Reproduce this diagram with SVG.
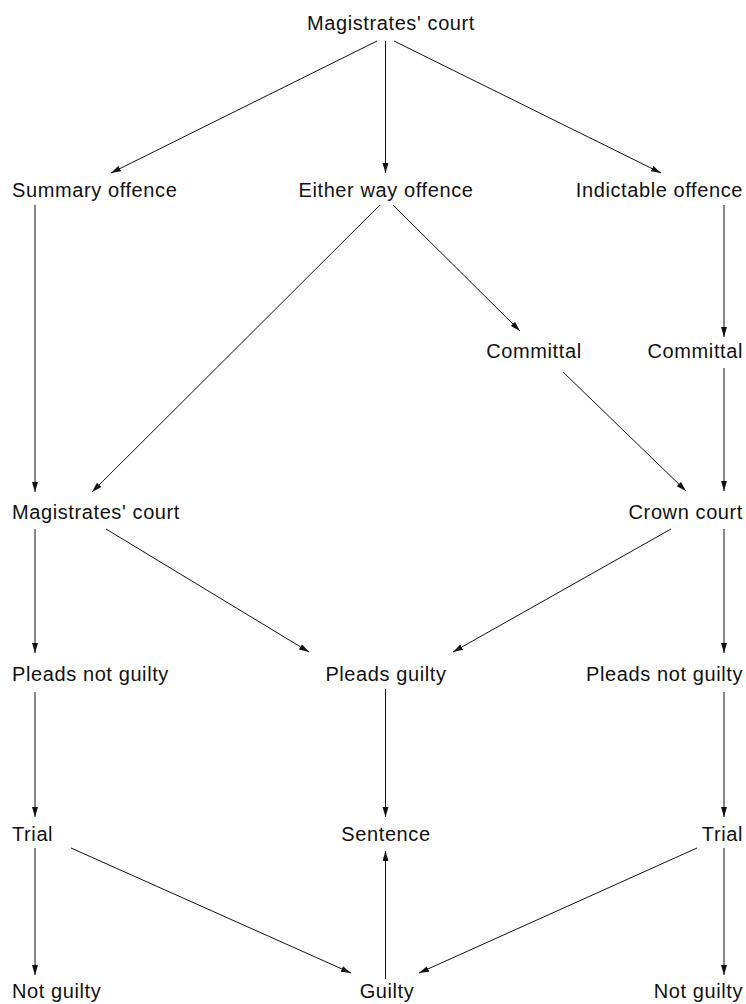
<svg xmlns="http://www.w3.org/2000/svg" width="746" height="1004" viewBox="0 0 746 1004">
<style>
  text { font-family: "Liberation Sans", Arial, sans-serif; font-size: 20px; fill: #111; letter-spacing: 0.6px; }
  .l { text-anchor: start; }
  .m { text-anchor: middle; }
  .r { text-anchor: end; }
  #connectors line { stroke: #111; stroke-width: 1; fill: none; marker-end: url(#arr); }
</style>
<defs>
  <marker id="arr" markerUnits="userSpaceOnUse" markerWidth="11" markerHeight="7" refX="10" refY="3" orient="auto">
    <path d="M0,0 L10,3 L0,6 z" fill="#111"/>
  </marker>
</defs>
<rect width="746" height="1004" fill="#fff"/>
<g id="connectors">
  <line x1="377" y1="41" x2="111" y2="173"/>
  <line x1="385.5" y1="41" x2="385.5" y2="173"/>
  <line x1="394" y1="41" x2="661" y2="173"/>
  <line x1="35" y1="205" x2="35" y2="492"/>
  <line x1="380" y1="205" x2="92" y2="492"/>
  <line x1="393" y1="205" x2="520" y2="331"/>
  <line x1="724" y1="205" x2="724" y2="337"/>
  <line x1="563" y1="372" x2="686" y2="491"/>
  <line x1="724" y1="368" x2="724" y2="491"/>
  <line x1="35" y1="529" x2="35" y2="653"/>
  <line x1="106" y1="529" x2="309" y2="652"/>
  <line x1="671" y1="529" x2="453" y2="652"/>
  <line x1="724" y1="529" x2="724" y2="653"/>
  <line x1="35" y1="692" x2="35" y2="817"/>
  <line x1="385.5" y1="689" x2="385.5" y2="817"/>
  <line x1="724" y1="692" x2="724" y2="817"/>
  <line x1="71" y1="848" x2="351" y2="973"/>
  <line x1="35" y1="848" x2="35" y2="975"/>
  <line x1="385.5" y1="979" x2="385.5" y2="851"/>
  <line x1="697" y1="848" x2="419" y2="973"/>
  <line x1="724" y1="848" x2="724" y2="975"/>
</g>
<g id="n-mag-top"><text class="m" x="391" y="30">Magistrates' court</text></g>
<g id="n-summary"><text class="l" x="12" y="197">Summary offence</text></g>
<g id="n-either"><text class="m" x="386" y="197">Either way offence</text></g>
<g id="n-indictable"><text class="r" x="743" y="197">Indictable offence</text></g>
<g id="n-committal1"><text class="m" x="534" y="358">Committal</text></g>
<g id="n-committal2"><text class="r" x="743" y="358">Committal</text></g>
<g id="n-mag-court"><text class="l" x="12" y="519">Magistrates' court</text></g>
<g id="n-crown-court"><text class="r" x="743" y="519">Crown court</text></g>
<g id="n-pleads-ng-left"><text class="l" x="12" y="681">Pleads not guilty</text></g>
<g id="n-pleads-guilty"><text class="m" x="386" y="681">Pleads guilty</text></g>
<g id="n-pleads-ng-right"><text class="r" x="743" y="681">Pleads not guilty</text></g>
<g id="n-trial-left"><text class="l" x="12" y="841">Trial</text></g>
<g id="n-sentence"><text class="m" x="386" y="841">Sentence</text></g>
<g id="n-trial-right"><text class="r" x="743" y="841">Trial</text></g>
<g id="n-notguilty-left"><text class="l" x="12" y="998">Not guilty</text></g>
<g id="n-guilty"><text class="m" x="387" y="998">Guilty</text></g>
<g id="n-notguilty-right"><text class="r" x="743" y="998">Not guilty</text></g>
</svg>
